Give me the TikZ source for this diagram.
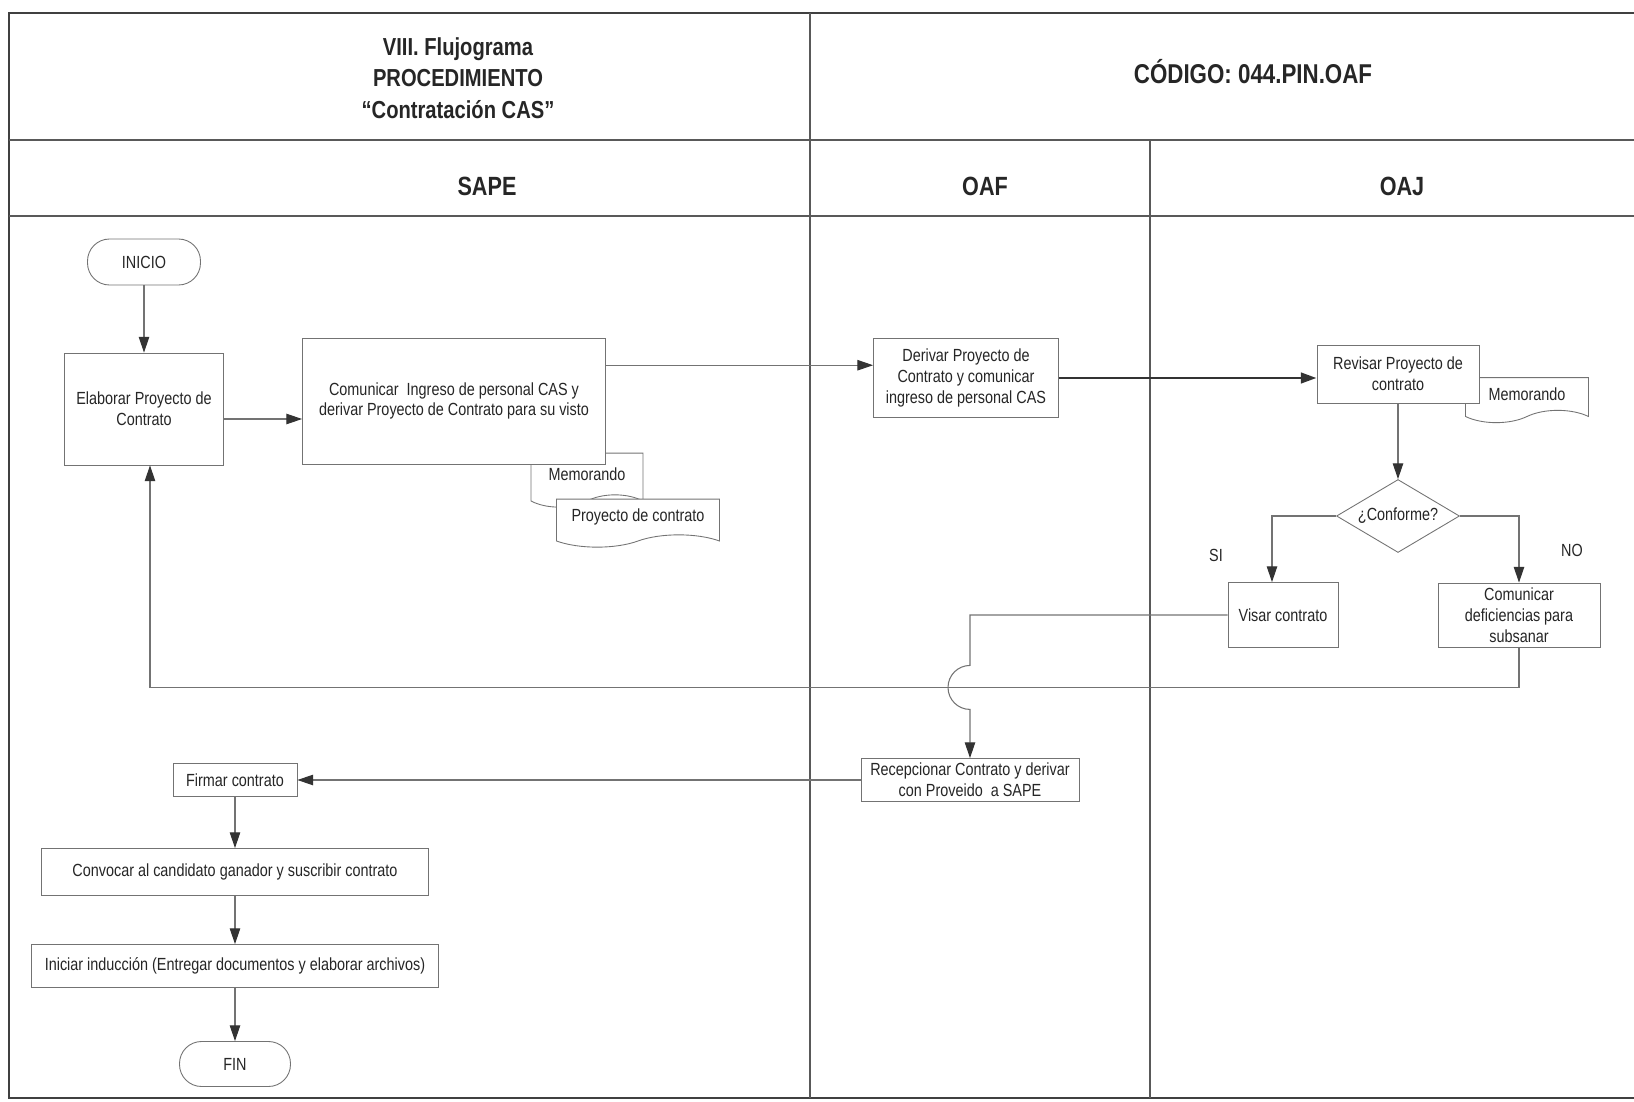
\documentclass[tikz,border=0pt]{standalone}
\usepackage{fontspec}
\setmainfont{Liberation Sans}
\newfontfamily\narrowfont{Liberation Sans}[FakeStretch=0.82]
\usetikzlibrary{arrows.meta,shapes.geometric,shapes.symbols,calc}

\begin{document}
\begin{tikzpicture}[x=0.02cm, y=-0.02cm,
        every node/.style={text=black!85},
        frame/.style={draw=black!75, line width=1.1pt},
        lane/.style={draw=black!65, line width=0.6pt},
        head/.style={font=\narrowfont\bfseries\fontsize{#1}{18}\selectfont, align=center},
        head/.default=15,
        proc/.style={draw=black!55, line width=0.5pt, fill=white, align=center, inner sep=1pt,
                     font=\narrowfont\fontsize{10}{11.8}\selectfont},
        term/.style={proc, rounded corners=0.44cm},
        doc/.style={proc, tape, tape bend top=none, tape bend bottom=in and out, tape bend height=7pt},
        decision/.style={proc, diamond, aspect=1.7, inner sep=0pt},
        flow/.style={draw=black!55, line width=0.6pt},
        arr/.style={flow, -{Triangle[length=9pt, width=6pt, color=black!80]}},
        tag/.style={font=\narrowfont\fontsize{10}{12}\selectfont}
    ]
                \useasboundingbox (0,0) rectangle (1634,1102);

                \draw[frame] (9,13) rectangle (1650,1098);
                \draw[lane] (9,140) -- (1650,140);
                \draw[lane] (9,216) -- (1650,216);
                \draw[lane] (810,13) -- (810,1098);
                \draw[lane] (1150,140) -- (1150,1098);

                \node[head=14] (title) at (458,78) {VIII. Flujograma\\PROCEDIMIENTO\\“Contratación CAS”};
                \node[head=15.5] (code) at (1253,72) {CÓDIGO: 044.PIN.OAF};
                \node[head] (sape) at (487,186) {SAPE};
                \node[head] (oaf) at (985,186) {OAF};
                \node[head] (oaj) at (1402,186) {OAJ};

                \node[term, minimum width=2.26cm, minimum height=0.92cm] (inicio) at (144,262) {INICIO};
                \node[proc, minimum width=3.18cm, minimum height=2.24cm] (elab) at (144,409) {Elaborar Proyecto de\\Contrato};
                \node[doc, minimum width=2.24cm, minimum height=1.08cm] (memo1) at (587,474) {Memorando};
                \node[doc, minimum width=3.26cm, minimum height=0.96cm] (proy) at (638,517) {Proyecto de contrato};
                \node[proc, minimum width=6.06cm, minimum height=2.52cm] (comu) at (454,401) {Comunicar\ \ Ingreso de personal CAS y\\derivar Proyecto de Contrato para su visto};

                \node[proc, minimum width=3.7cm, minimum height=1.58cm] (deriv) at (966,378) {Derivar Proyecto de\\Contrato y comunicar\\ingreso de personal CAS};
                \node[doc, minimum width=2.46cm, minimum height=0.9cm] (memo2) at (1527,394) {Memorando};
                \node[proc, minimum width=3.24cm, minimum height=1.16cm] (revis) at (1398,374) {Revisar Proyecto de\\contrato};
                \node[decision, minimum width=2.46cm, minimum height=1.46cm] (conf) at (1398,516) {¿Conforme?};
                \node[proc, minimum width=2.2cm, minimum height=1.3cm] (visar) at (1283,615) {Visar contrato};
                \node[proc, minimum width=3.24cm, minimum height=1.28cm] (comdef) at (1519,615) {Comunicar\\deficiencias para\\subsanar};
                \node[tag] (si) at (1216,555) {SI};
                \node[tag] (no) at (1572,550) {NO};

                \node[proc, minimum width=4.36cm, minimum height=0.86cm] (recep) at (970,780) {Recepcionar Contrato y derivar\\con Proveido\ \ a SAPE};
                \node[proc, minimum width=2.48cm, minimum height=0.66cm] (firmar) at (235,780) {Firmar contrato};
                \node[proc, minimum width=7.74cm, minimum height=0.94cm] (convoc) at (235,872) {Convocar al candidato ganador y suscribir contrato};
                \node[proc, minimum width=8.14cm, minimum height=0.86cm] (induc) at (235,966) {Iniciar inducción (Entregar documentos y elaborar archivos)};
                \node[term, minimum width=2.22cm, minimum height=0.9cm] (fin) at (235,1064) {FIN};

                \coordinate (ret) at ($(comdef.south)+(0,40)$);
                \coordinate (dIn) at ($(deriv.north west)!0.34!(deriv.south west)$);

                \draw[arr] (inicio) -- (elab);
                \draw[arr] ([yshift=-0.2cm]elab.east) -- ([yshift=-0.2cm]elab.east -| comu.west);
                \draw[arr] (comu.east |- dIn) -- (dIn);
                \draw[arr, line width=1.6pt, draw=black!80] (deriv.east) -- (deriv.east -| revis.west);
                \draw[arr] (revis) -- (conf);
                \draw[arr] (conf.west) -| ([xshift=-0.22cm]visar.north);
                \draw[arr] (conf.east) -| (comdef.north);
                \draw[arr] (visar.west) -- (visar.west -| recep.north) -- ($(recep.north |- ret)+(0,-22)$)
                        arc[start angle=90, end angle=270, radius=0.44cm] -- (recep.north);
                \draw[arr] (comdef.south) -- (comdef.south |- ret) -| ([xshift=0.12cm]elab.south);
                \draw[arr] (recep) -- (firmar);
                \draw[arr] (firmar) -- (convoc);
                \draw[arr] (convoc) -- (induc);
                \draw[arr] (induc) -- (fin);
            \end{tikzpicture}
\end{document}
